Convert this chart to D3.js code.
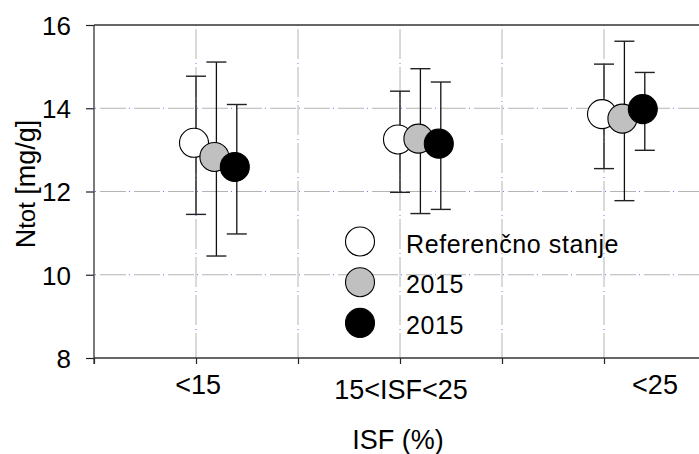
<!DOCTYPE html>
<html><head><meta charset="utf-8">
<script src="https://cdn.jsdelivr.net/npm/d3@7"></script>
<style>
html,body{margin:0;padding:0;background:#fff;overflow:hidden}
text{font-family:"Liberation Sans",Arial,sans-serif;fill:#000}
</style></head>
<body><svg id="c" width="699" height="454"></svg>
<script>
// ---- data ----
const categories = ["<15", "15<ISF<25", "<25"];
const categoryPos = [1, 3, 5];          // position on the x scale
const labelPos = [1.02, 3.01, 5.5];     // where tick labels are written
const seriesNames = ["Referenčno stanje", "2015", "2015"];
const seriesFill = ["#ffffff", "#c0c0c0", "#000000"];
const refMean = [13.17, 13.25, 13.86];
const refHigh = [14.77, 14.41, 15.06];
const refLow  = [11.45, 11.98, 12.55];
const s2Mean = [12.83, 13.27, 13.75];
const s2High = [15.11, 14.95, 15.61];
const s2Low  = [10.45, 11.47, 11.78];
const s3Mean = [12.59, 13.15, 13.98];
const s3High = [14.09, 14.63, 14.86];
const s3Low  = [10.98, 11.57, 12.99];
const yTicks = [8, 10, 12, 14, 16];
const xTicks = [0, 1, 2, 3, 4, 5, 6];
const yTitle = ["N", "tot", " [mg/g]"];
const xTitle = "ISF (%)";

const series = [
  {mean: refMean, high: refHigh, low: refLow},
  {mean: s2Mean, high: s2High, low: s2Low},
  {mean: s3Mean, high: s3High, low: s3Low}
];

const svg = d3.select("#c");
const L = 94, T = 25, B = 358, R = 699;
const x = d3.scaleLinear().domain([0, 6]).range([L, L + 6 * 102]);
const y = d3.scaleLinear().domain([8, 16]).range([B, T]);
const offset = 0.2;

// grid
const g = svg.append("g");
const hg = yTicks.filter(v => v > 8 && v < 16);
hg.forEach(v => {
  g.append("line").attr("x1", L).attr("x2", R).attr("y1", y(v)).attr("y2", y(v))
    .attr("stroke", "#b4b4b4").attr("stroke-width", 1).attr("stroke-dasharray", "26 8").attr("stroke-dashoffset", -6);
  g.append("line").attr("x1", L).attr("x2", R).attr("y1", y(v)).attr("y2", y(v))
    .attr("stroke", "#7070ff").attr("stroke-width", 1).attr("stroke-dasharray", "1 33").attr("stroke-dashoffset", -1);
});
xTicks.filter(v => v > 0).forEach(v => {
  g.append("line").attr("x1", x(v)).attr("x2", x(v)).attr("y1", T).attr("y2", B)
    .attr("stroke", "#b4b4b4").attr("stroke-width", 1).attr("stroke-dasharray", "30 8").attr("stroke-dashoffset", -4);
  g.append("line").attr("x1", x(v)).attr("x2", x(v)).attr("y1", T).attr("y2", B)
    .attr("stroke", "#7070ff").attr("stroke-width", 1).attr("stroke-dasharray", "1 37").attr("stroke-dashoffset", 0);
});

// axes
const yAxis = d3.axisLeft(y).tickValues(yTicks).tickSize(8).tickPadding(15).tickFormat(d3.format("d"));
const ya = svg.append("g").attr("transform", `translate(${L},0)`).call(yAxis);
ya.select(".domain").remove();
ya.selectAll(".tick line").attr("stroke", "#222").attr("stroke-width", 1.2);
ya.selectAll(".tick text").attr("font-size", 26).attr("dy", "0.36em")
  .style("font-family", '"Liberation Sans",Arial,sans-serif');

const xAxis = d3.axisBottom(x).tickValues(xTicks).tickSize(6).tickFormat("");
const xa = svg.append("g").attr("transform", `translate(0,${B})`).call(xAxis);
xa.select(".domain").remove();
xa.selectAll(".tick line").attr("stroke", "#222").attr("stroke-width", 1.2);

// frame lines
svg.append("line").attr("x1", L).attr("x2", R).attr("y1", B).attr("y2", B).attr("stroke", "#333").attr("stroke-width", 1.3);
svg.append("line").attr("x1", L).attr("x2", R).attr("y1", T).attr("y2", T).attr("stroke", "#333").attr("stroke-width", 1.3);
svg.append("line").attr("x1", L).attr("x2", L).attr("y1", T).attr("y2", B + 6).attr("stroke", "#333").attr("stroke-width", 1.3);

// x tick labels
const labelBase = [394, 399, 394];
categories.forEach((c, i) => {
  svg.append("text").attr("x", x(labelPos[i])).attr("y", labelBase[i])
    .attr("text-anchor", "middle").attr("font-size", 27).text(c);
});

// titles
svg.append("text").attr("x", 398).attr("y", 449).attr("text-anchor", "middle").attr("font-size", 27).text(xTitle);
const yt = svg.append("text").attr("transform", "translate(35,184) rotate(-90)")
  .attr("text-anchor", "middle").attr("font-size", 27);
yt.append("tspan").text(yTitle[0]);
yt.append("tspan").attr("font-size", 24).text(yTitle[1]);
yt.append("tspan").text(yTitle[2]);

// data
const r = 14.5;
series.forEach((s, k) => {
  const gg = svg.append("g");
  categoryPos.forEach((p, i) => {
    const cx = x(p + k * offset);
    gg.append("line").attr("x1", cx).attr("x2", cx).attr("y1", y(s.high[i])).attr("y2", y(s.low[i]))
      .attr("stroke", "#111").attr("stroke-width", 1.3);
    [s.high[i], s.low[i]].forEach(v => {
      gg.append("line").attr("x1", cx - 10).attr("x2", cx + 10).attr("y1", y(v)).attr("y2", y(v))
        .attr("stroke", "#222").attr("stroke-width", 1.4);
    });
    gg.append("circle").attr("cx", cx - 2).attr("cy", y(s.mean[i])).attr("r", r)
      .attr("fill", seriesFill[k]).attr("stroke", "#000").attr("stroke-width", 1.1);
  });
});

// legend
const lg = svg.append("g");
seriesNames.forEach((n, k) => {
  lg.append("circle").attr("cx", 360).attr("cy", 241.5 + k * 40.7).attr("r", r)
    .attr("fill", seriesFill[k]).attr("stroke", "#000").attr("stroke-width", 1.1);
  lg.append("text").attr("x", 406).attr("y", 253 + k * 40.3).attr("font-size", 25)
    .attr("letter-spacing", 0.6).text(n);
});
</script></body></html>
